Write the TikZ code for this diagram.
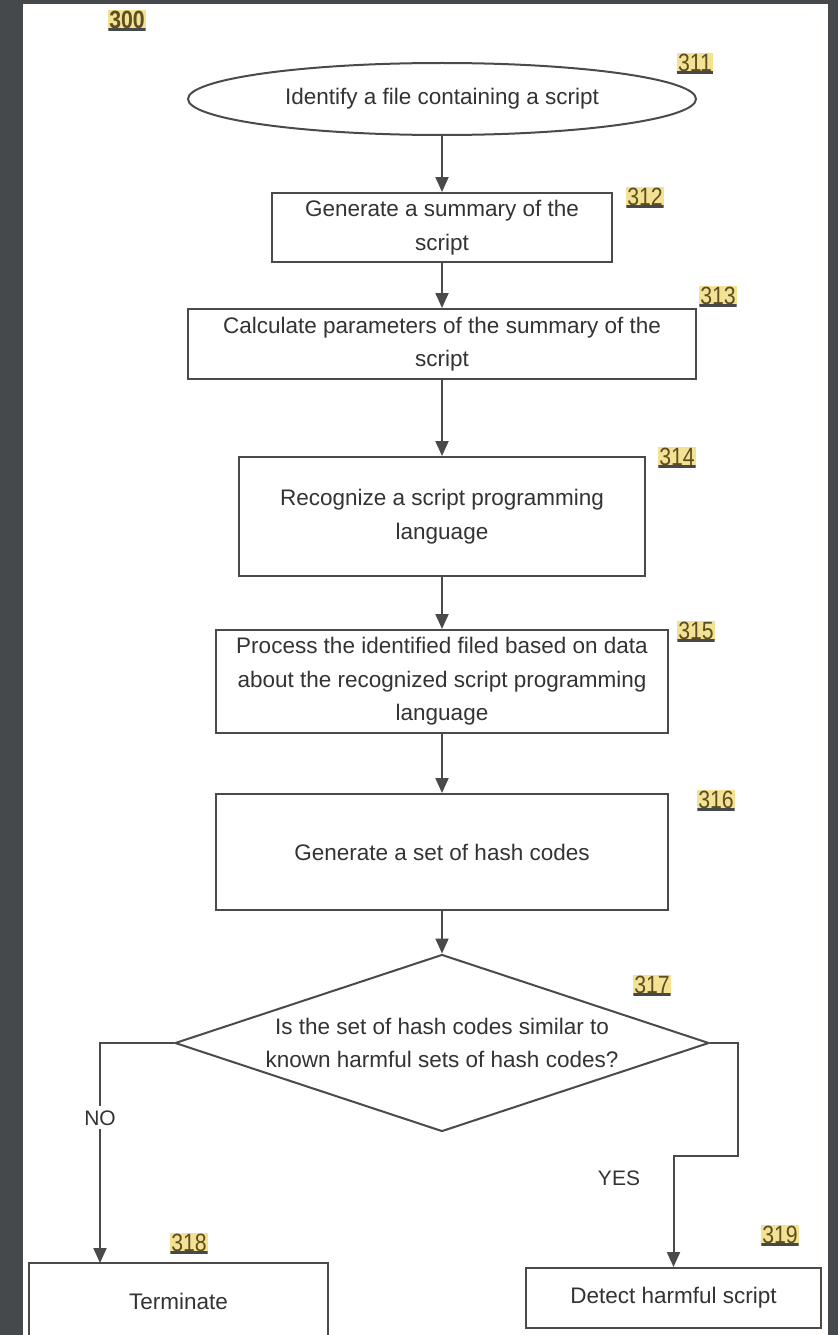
\documentclass[tikz,border=0pt]{standalone}
\usepackage{fontspec}
\setmainfont{Liberation Sans}
\newfontfamily\refnumfont{Liberation Sans}[FakeStretch=0.85]
\usetikzlibrary{shapes.geometric,arrows.meta}
\definecolor{framegray}{HTML}{46494C}
\definecolor{linegray}{HTML}{4A4A4A}
\definecolor{textgray}{HTML}{333333}
\definecolor{refyellow}{HTML}{F4E294}
\definecolor{refink}{HTML}{5A4E22}
\tikzset{
	stepbox/.style={draw=linegray, line width=2pt, fill=white, text=textgray, align=center, inner sep=0pt, font=\fontsize{22.5}{33.5}\selectfont},
	flow/.style={draw=linegray, line width=2pt, -{Triangle[length=15pt,width=13pt]}},
	refnum/.style={fill=refyellow, text=refink, inner xsep=1pt, inner ysep=1.5pt, font=\refnumfont\fontsize{25}{25}\selectfont,
		path picture={\draw[framegray, line width=5pt] (path picture bounding box.south west) -- (path picture bounding box.south east);}},
	branch/.style={text=textgray, font=\fontsize{21}{21}\selectfont},
}

\begin{document}
\begin{tikzpicture}[x=1pt, y=-1pt]
			%%%%% START %%%%%
			\useasboundingbox (0, 0) rectangle (838, 1335);
			\fill[framegray] (0, 0) rectangle (838, 1335);
			\fill[white] (23, 4) rectangle (828, 1335);
			
			\node[refnum, font=\refnumfont\bfseries\fontsize{25}{25}\selectfont] (r300) at (127, 20) {300};
			
			\node[stepbox, ellipse, minimum width=508pt, minimum height=72pt] (s311) at (442, 99) {Identify a file containing a script};
			\node[refnum] (r311) at (695, 63) {311};
			
			\node[stepbox, minimum width=340pt, minimum height=69pt] (s312) at (442, 227.5) {Generate a summary of the\\script};
			\node[refnum] (r312) at (645, 197) {312};
			
			\node[stepbox, minimum width=508pt, minimum height=70pt] (s313) at (442, 344) {Calculate parameters of the summary of the\\script};
			\node[refnum] (r313) at (718, 296) {313};
			
			\node[stepbox, minimum width=406pt, minimum height=119pt] (s314) at (442, 516.5) {Recognize a script programming\\language};
			\node[refnum] (r314) at (677, 457) {314};
			
			\node[stepbox, minimum width=452pt, minimum height=103pt] (s315) at (442, 681.5) {Process the identified filed based on data\\about the recognized script programming\\language};
			\node[refnum] (r315) at (696, 631) {315};
			
			\node[stepbox, minimum width=452pt, minimum height=116pt] (s316) at (442, 852) {Generate a set of hash codes};
			\node[refnum] (r316) at (716, 800) {316};
			
			\node[stepbox, diamond, aspect=3, minimum width=534pt, minimum height=177pt] (s317) at (442, 1043) {Is the set of hash codes similar to\\known harmful sets of hash codes?};
			\node[refnum] (r317) at (652, 985) {317};
			
			\node[stepbox, minimum width=299pt, minimum height=76pt] (s318) at (178.5, 1301) {Terminate};
			\node[refnum] (r318) at (189, 1243) {318};
			
			\node[stepbox, minimum width=295pt, minimum height=60pt] (s319) at (673.5, 1298) {Detect harmful script};
			\node[refnum] (r319) at (780, 1235) {319};
			
			% straight flow
			\draw[flow] (s311.south) -- (s312.north);
			\draw[flow] (s312.south) -- (s313.north);
			\draw[flow] (s313.south) -- (s314.north);
			\draw[flow] (s314.south) -- (s315.north);
			\draw[flow] (s315.south) -- (s316.north);
			\draw[flow] (s316.south) -- (s317.north);
			
			% decision
			\coordinate (nofoot) at (100, 1263);
			\coordinate (yesbend) at (738, 1156);
			\draw[flow] (s317.west) -| (nofoot) node[branch, pos=0.67, fill=white, inner sep=4pt] (nolbl) {NO};
			\draw[flow] (s317.east) -| (yesbend) -| (s319.north);
			\node[branch] (yeslbl) at (619, 1178) {YES};
			%%%%% END %%%%%
\end{tikzpicture}
\end{document}
